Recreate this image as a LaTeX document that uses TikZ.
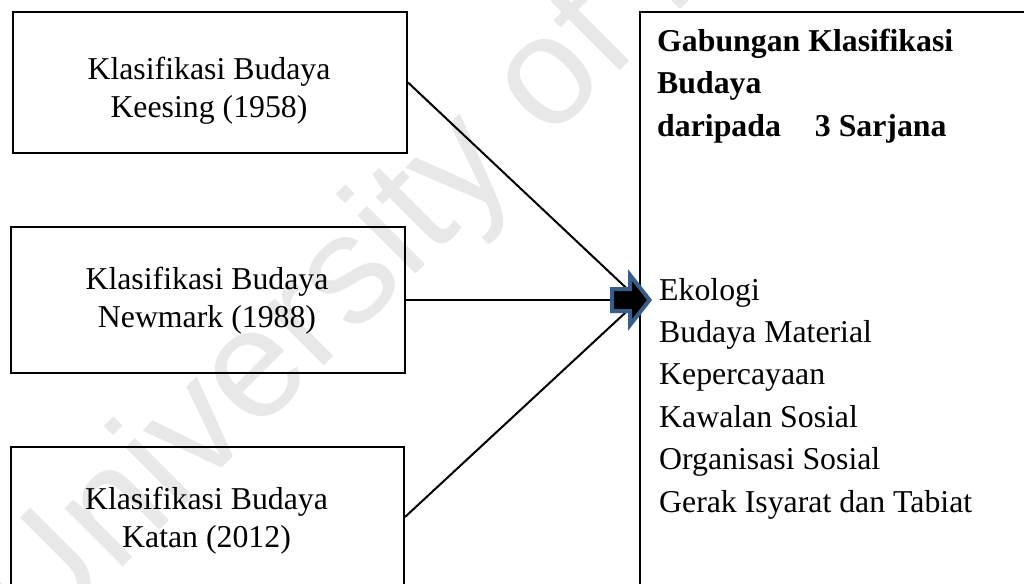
\documentclass[tikz,border=0pt]{standalone}
\usepackage{fontspec}
\setmainfont{Liberation Serif}
\newfontfamily\wmfont{Liberation Sans}
\definecolor{wmgray}{HTML}{E8E8E8}
\definecolor{arrowblue}{HTML}{385D8A}
\begin{document}
\begin{tikzpicture}[x=1pt,y=-1pt,
  srcbox/.style={draw=black, line width=2pt, anchor=north west, inner sep=0pt},
  srctext/.style={font=\fontsize{31.8}{38}\selectfont, align=center, inner sep=0pt},
  listtext/.style={font=\fontsize{31.8}{42.4}\selectfont, align=left, anchor=base west, inner sep=0pt},
  link/.style={line width=2pt, draw=black},
  bigarrow/.style={draw=arrowblue, fill=black, line width=4pt, line join=miter},
  ]
\useasboundingbox (0,0) rectangle (1024,583);
\clip (0,0) rectangle (1024,583);

% watermark in the background
\node[font=\wmfont\fontsize{155.5}{155.5}\selectfont, text=wmgray, rotate=45,
      anchor=base west, inner sep=0pt] (wm) at (35.8,654.4) {University of Malaya};

% the three source classifications
\node[srcbox, minimum width=394pt, minimum height=141pt] (b1) at (12,11) {};
\node[srcbox, minimum width=394pt, minimum height=146pt] (b2) at (10,226) {};
\node[srcbox, minimum width=393pt, minimum height=140pt] (b3) at (10,446) {};

\node[srctext] (t1) at (209,90.6) {Klasifikasi Budaya\\Keesing (1958)};
\node[srctext] (t2) at (207,301) {Klasifikasi Budaya\\Newmark (1988)};
\node[srctext] (t3) at (206.5,521) {Klasifikasi Budaya\\Katan (2012)};

% combined result (base anchor sits on the last line of each block)
\node[draw=black, fill=white, line width=2pt, anchor=north west, inner sep=0pt,
      minimum width=420pt, minimum height=600pt] (res) at (639,11) {};
\node[listtext, font=\bfseries\fontsize{31.8}{42.4}\selectfont] (head) at (657,136)
  {Gabungan Klasifikasi\\Budaya\\daripada\hspace*{34pt}3 Sarjana};
\node[listtext] (items) at (659,512)
  {Ekologi\\Budaya Material\\Kepercayaan\\Kawalan Sosial\\Organisasi Sosial\\Gerak Isyarat dan Tabiat};

% connectors meeting at the result box
\coordinate (hub) at (639,300);
\draw[link] (b1.east) -- (hub);
\draw[link] (b2.east) -- (b2.east -| hub);
\draw[link] (b3.east) -- (hub);

% block arrow into the result box
\draw[bigarrow] (612,289) -- (630,289) -- (630,275) -- (649.5,300)
  -- (630,325) -- (630,311) -- (612,311) -- cycle;
\end{tikzpicture}
\end{document}
